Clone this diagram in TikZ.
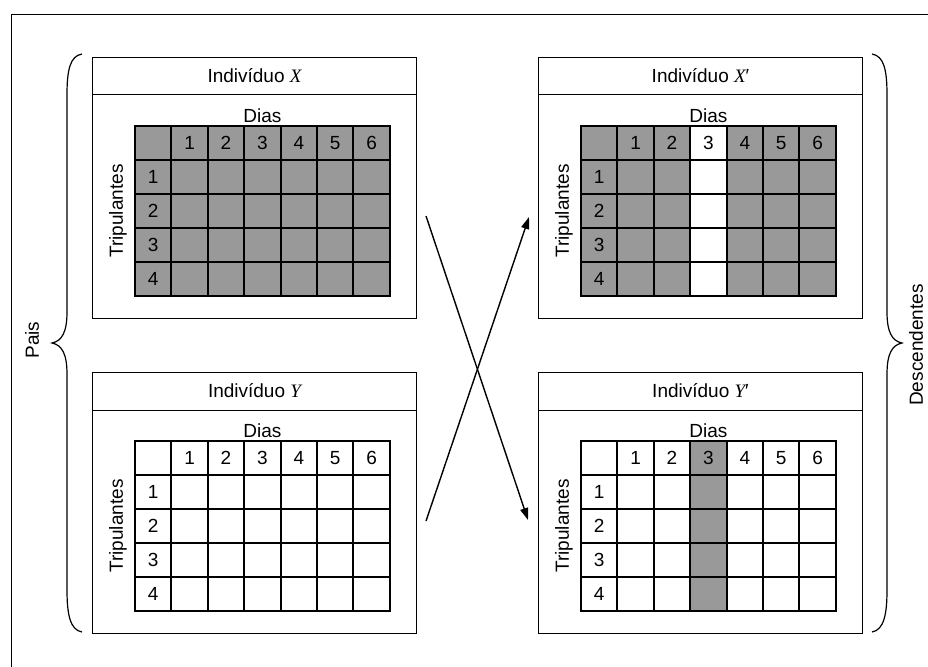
\documentclass[tikz,border=0pt]{standalone}
\usepackage{fontspec}
\setmainfont{Liberation Sans}
\newfontfamily\serifX{Liberation Serif}
\usetikzlibrary{arrows.meta,positioning}
\definecolor{cinza}{RGB}{153,153,153}
\tikzset{
    painel/.style={
        draw,
        line width=1pt,
        minimum width=324pt,
        minimum height=261pt,
        inner sep=0pt,
        anchor=north west
    },
    % linhas da tabela
    grossa/.style={line width=2.1pt, line cap=rect},
    fina/.style={line width=1pt},
    rotulo/.style={font=\fontsize{19}{22}\selectfont, inner sep=1pt},
    seta/.style={
        line width=1.4pt,
        -{Triangle[length=12pt, width=8pt]}
    },
    chave/.style={line width=1.2pt}
}
% painel: nome, x, y, titulo, fundo, coluna 3
\newcommand{\painel}[6]{%
    \node[painel] (#1) at (#2,#3) {};
    \draw[fina] ([yshift=-38pt]#1.north west) -- ([yshift=-38pt]#1.north east);
    \node[rotulo] (#1-tit) at ([yshift=-19pt]#1.north) {Indivíduo #4};
    \begin{scope}[shift={(#2+43,#3+69)}]
        \fill[#5] (0,0) rectangle (254.8,170);
        \fill[#6] (109.2,0) rectangle (145.6,170);
        \foreach \i in {0,...,7}
            \draw[grossa] (\i*36.4,0) -- (\i*36.4,170);
        \foreach \j in {0,...,5}
            \draw[grossa] (0,\j*34) -- (254.8,\j*34);
        \foreach \i in {1,...,6}
            \node[rotulo] (#1-d\i) at (\i*36.4+18.2,17) {\i};
        \foreach \j in {1,...,4}
            \node[rotulo] (#1-t\j) at (18.2,\j*34+17) {\j};
        \node[rotulo] (#1-dias) at (127.4,-10) {Dias};
        \node[rotulo, rotate=90] (#1-trip) at (-17,85) {Tripulantes};
    \end{scope}
}

\begin{document}
\begin{tikzpicture}[x=1pt, y=-1pt]
   \useasboundingbox (0,0) rectangle (928,666);
   \draw[fina] (11,670) -- (11,15) -- (932,15);

   \painel{pX}{92}{57}{{\serifX\itshape X}}{cinza}{cinza}
   \painel{pXl}{538}{57}{{\serifX\itshape X}′}{cinza}{white}
   \painel{pY}{92}{372}{{\serifX\itshape Y}}{white}{white}
   \painel{pYl}{538}{372}{{\serifX\itshape Y}′}{white}{cinza}

   % cruzamento
   \coordinate (s1) at (426,216);
   \coordinate (e1) at (528,520);
   \coordinate (s2) at (426,521);
   \coordinate (e2) at (529,217);
   \draw[seta] (s1) -- (e1);
   \draw[seta] (s2) -- (e2);

   % chaves
   \draw[chave] (82,54) .. controls (70,56) and (67,70) .. (67,95) -- (67,312)
      .. controls (67,332) and (62,341) .. (52,343)
      .. controls (62,345) and (67,354) .. (67,374) -- (67,590)
      .. controls (67,614) and (70,630) .. (82,632);
   \draw[chave] (872,54) .. controls (884,56) and (887,70) .. (887,95) -- (887,312)
      .. controls (887,332) and (892,341) .. (902,343)
      .. controls (892,345) and (887,354) .. (887,374) -- (887,590)
      .. controls (887,614) and (884,630) .. (872,632);
   \node[rotulo, rotate=90] (pais) at (32,340) {Pais};
   \node[rotulo, rotate=90] (desc) at (916,345) {Descendentes};
\end{tikzpicture}
\end{document}
